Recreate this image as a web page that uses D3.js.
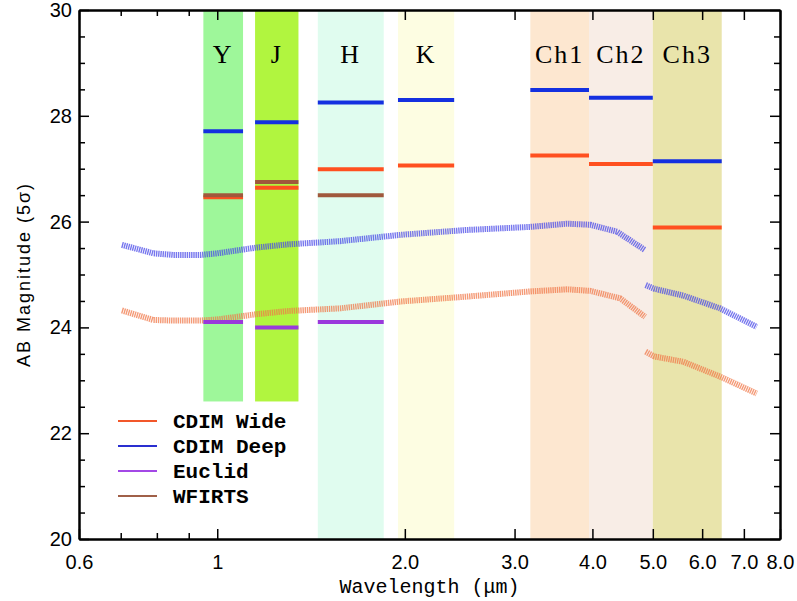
<!DOCTYPE html>
<html>
<head>
<meta charset="utf-8">
<script src="https://cdn.jsdelivr.net/npm/d3@7"></script>
<style>
  body { margin: 0; background: #fff; }
  .tick text { font-family: "Liberation Sans", Arial, sans-serif; font-size: 20px; fill: #000; }
</style>
</head>
<body>
<div class="graphHere"></div>
<script>
// filter bands (micron)
var bandNames = ["Y", "J", "H", "K", "Ch1", "Ch2", "Ch3"];
var bandLo = [0.95, 1.15, 1.45, 1.95, 3.18, 3.95, 5.0];
var bandHi = [1.10, 1.35, 1.85, 2.40, 3.95, 5.0, 6.45];
var bandBottom = [22.6, 22.6, 20, 20, 20, 20, 20];
var bandColors = ["#9ef79a", "#b1f53f", "#e0fcef", "#fdfde2", "#fde7d0", "#f8ede6", "#e9e4ab"];

// 5 sigma depth per band (null = none)
var deepMag = [27.71, 27.88, 28.25, 28.30, 28.49, 28.34, 27.14];
var wideMag = [26.46, 26.64, 26.99, 27.06, 27.25, 27.09, 25.89];
var euclidMag = [24.10, 24.00, 24.10, null, null, null, null];
var wfirstMag = [26.50, 26.75, 26.50, null, null, null, null];

// continuous sensitivity curves
var deepCurve1Wl = [0.703, 0.79, 0.85, 0.94, 1.0, 1.157, 1.30, 1.574, 1.97, 2.5, 3.18, 3.64, 3.97, 4.38, 4.86];
var deepCurve1Mag = [25.56, 25.40, 25.37, 25.37, 25.40, 25.51, 25.57, 25.63, 25.75, 25.84, 25.90, 25.96, 25.94, 25.81, 25.46];
var deepCurve2Wl = [4.87, 5.03, 5.6, 6.41, 7.34];
var deepCurve2Mag = [24.80, 24.73, 24.60, 24.36, 24.01];
var wideCurve1Wl = [0.703, 0.79, 0.85, 0.94, 1.0, 1.157, 1.30, 1.574, 1.97, 2.5, 3.18, 3.64, 3.97, 4.43, 4.86];
var wideCurve1Mag = [24.32, 24.14, 24.13, 24.13, 24.15, 24.25, 24.31, 24.36, 24.49, 24.58, 24.68, 24.72, 24.69, 24.55, 24.20];
var wideCurve2Wl = [4.87, 5.03, 5.6, 6.41, 7.34];
var wideCurve2Mag = [23.54, 23.45, 23.35, 23.07, 22.75];

var xMajor = [0.6, 1, 2, 3, 4, 5, 6, 7, 8];
var xMajorLabels = ["0.6", "1", "2.0", "3.0", "4.0", "5.0", "6.0", "7.0", "8.0"];
var xMinor = [0.7, 0.8, 0.9];
var yMajor = [20, 22, 24, 26, 28, 30];

var legendNames = ["CDIM Wide", "CDIM Deep", "Euclid", "WFIRTS"];
var legendColors = ["#f2572a", "#2a2fd0", "#a348e6", "#a06048"];

var width = 797, height = 601;
var margin = {left: 79, right: 17, top: 10, bottom: 62};

var svg = d3.select(".graphHere").append("svg")
  .attr("width", width)
  .attr("height", height);

var x = d3.scaleLog().domain([0.6, 8]).range([margin.left, width - margin.right]);
var y = d3.scaleLinear().domain([20, 30]).range([height - margin.bottom, margin.top]);

// bands
var bands = bandNames.map(function(n, i){
  return {name: n, lo: bandLo[i], hi: bandHi[i], bottom: bandBottom[i], color: bandColors[i]};
});
svg.selectAll("rect.band").data(bands).enter().append("rect")
  .attr("class", "band")
  .attr("x", function(d){ return x(d.lo); })
  .attr("width", function(d){ return x(d.hi) - x(d.lo); })
  .attr("y", y(30))
  .attr("height", function(d){ return y(d.bottom) - y(30); })
  .attr("fill", function(d){ return d.color; });

svg.selectAll("text.bandLabel").data(bands).enter().append("text")
  .attr("class", "bandLabel")
  .attr("x", function(d){ return (x(d.lo) + x(d.hi)) / 2; })
  .attr("y", 63)
  .attr("text-anchor", "middle")
  .style("font-family", "'Liberation Serif', 'DejaVu Serif', serif")
  .style("font-size", "26px")
  .style("letter-spacing", "2px")
  .text(function(d){ return d.name; });

// curves
var line = d3.line()
  .x(function(d){ return x(d[0]); })
  .y(function(d){ return y(d[1]); });

function drawCurve(wl, mag, color){
  svg.append("path")
    .datum(d3.zip(wl, mag))
    .attr("d", line)
    .attr("fill", "none")
    .attr("stroke", color)
    .attr("stroke-width", 6)
    .attr("stroke-dasharray", "1.4,0.8")
    .attr("stroke-opacity", 0.75);
}
drawCurve(deepCurve1Wl, deepCurve1Mag, "#4a4ae8");
drawCurve(deepCurve2Wl, deepCurve2Mag, "#4a4ae8");
drawCurve(wideCurve1Wl, wideCurve1Mag, "#f0784a");
drawCurve(wideCurve2Wl, wideCurve2Mag, "#f0784a");

// depth segments
function drawSegs(mags, color){
  bands.forEach(function(b, i){
    if (mags[i] == null) return;
    svg.append("line")
      .attr("x1", x(b.lo)).attr("x2", x(b.hi))
      .attr("y1", y(mags[i])).attr("y2", y(mags[i]))
      .attr("stroke", color)
      .attr("stroke-width", 4);
  });
}
drawSegs(wideMag, "#ff5020");
drawSegs(wfirstMag, "#a0583c");
drawSegs(deepMag, "#1430e0");
drawSegs(euclidMag, "#9a38dc");

// axes
var bottomAxis = d3.axisBottom(x).tickValues(xMajor)
  .tickFormat(function(d, i){ return xMajorLabels[i]; })
  .tickSizeInner(-10).tickSizeOuter(0).tickPadding(16);
svg.append("g").attr("transform", "translate(0," + y(20) + ")").call(bottomAxis);
var topAxis = d3.axisTop(x).tickValues(xMajor).tickFormat("").tickSizeInner(-10).tickSizeOuter(0);
svg.append("g").attr("transform", "translate(0," + y(30) + ")").call(topAxis);
svg.append("g").attr("transform", "translate(0," + y(20) + ")")
  .call(d3.axisBottom(x).tickValues(xMinor).tickFormat("").tickSizeInner(-6).tickSizeOuter(0));
svg.append("g").attr("transform", "translate(0," + y(30) + ")")
  .call(d3.axisTop(x).tickValues(xMinor).tickFormat("").tickSizeInner(-6).tickSizeOuter(0));

var yMinor = d3.range(20.5, 30, 0.5).filter(function(v){ return v % 2 !== 0; });
svg.append("g").attr("transform", "translate(" + x(0.6) + ",0)")
  .call(d3.axisLeft(y).tickValues(yMajor).tickFormat(d3.format("d")).tickSizeInner(-10).tickSizeOuter(0).tickPadding(7));
svg.append("g").attr("transform", "translate(" + x(0.6) + ",0)")
  .call(d3.axisLeft(y).tickValues(yMinor).tickFormat("").tickSizeInner(-6).tickSizeOuter(0));
svg.append("g").attr("transform", "translate(" + x(8) + ",0)")
  .call(d3.axisRight(y).tickValues(yMajor).tickFormat("").tickSizeInner(-10).tickSizeOuter(0));
svg.append("g").attr("transform", "translate(" + x(8) + ",0)")
  .call(d3.axisRight(y).tickValues(yMinor).tickFormat("").tickSizeInner(-6).tickSizeOuter(0));

svg.selectAll(".domain").attr("stroke", "#000").attr("stroke-width", 2);
svg.selectAll(".tick line").attr("stroke", "#000").attr("stroke-width", 1.5);

// axis titles
svg.append("text")
  .attr("transform", "translate(30," + ((y(20) + y(30)) / 2) + ") rotate(-90)")
  .attr("text-anchor", "middle")
  .style("font-family", "'Liberation Sans', Arial, sans-serif")
  .style("font-size", "18px")
  .style("letter-spacing", "2px")
  .text("AB Magnitude (5σ)");

svg.append("text")
  .attr("x", (x(0.6) + x(8)) / 2)
  .attr("y", 593)
  .attr("text-anchor", "middle")
  .style("font-family", "'Liberation Mono', 'Courier New', monospace")
  .style("font-size", "20px")
  .text("Wavelength (μm)");

// legend
legendNames.forEach(function(n, i){
  var ly = 421 + i * 25;
  svg.append("line")
    .attr("x1", 118).attr("x2", 157)
    .attr("y1", ly).attr("y2", ly)
    .attr("stroke", legendColors[i]).attr("stroke-width", 2);
  svg.append("text")
    .attr("x", 173).attr("y", ly + 7)
    .style("font-family", "'Liberation Mono', 'Courier New', monospace")
    .style("font-size", "21px")
    .style("font-weight", "bold")
    .text(n);
});
</script>
</body>
</html>
